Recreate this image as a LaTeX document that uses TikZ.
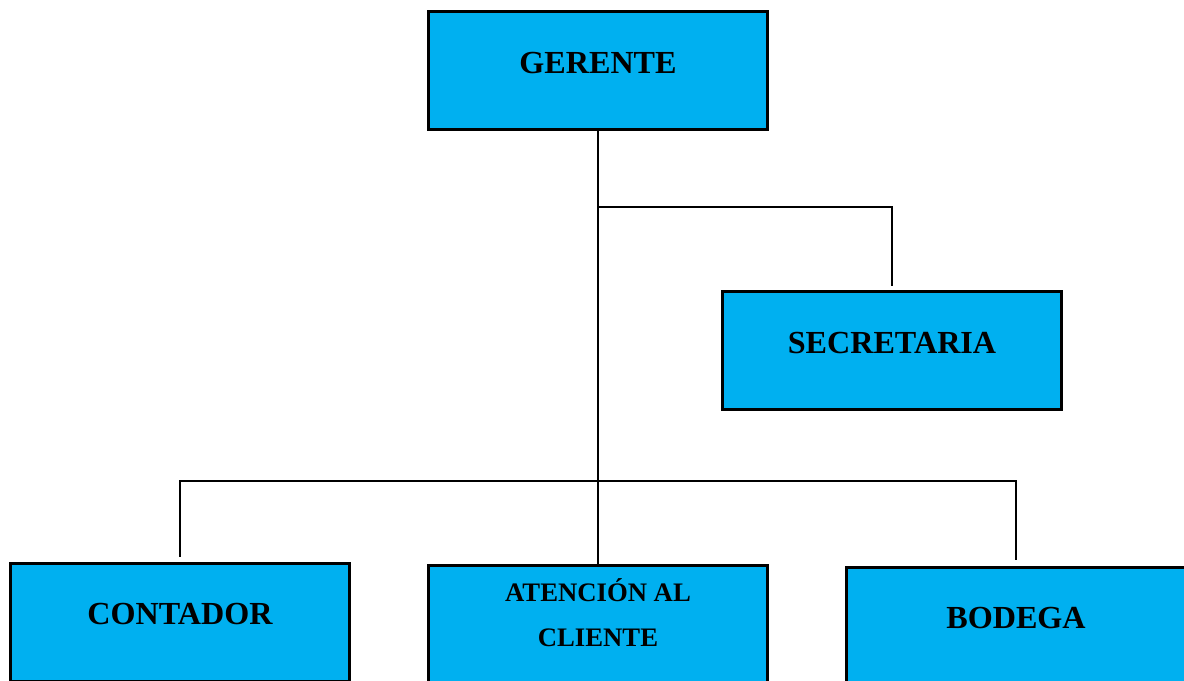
\documentclass[tikz,border=0pt]{standalone}
\usepackage{fontspec}
\setmainfont{Liberation Serif}
\usetikzlibrary{positioning}
\usepackage{xcolor}
\definecolor{celeste}{RGB}{0, 176, 240}

\tikzset{
  puesto/.style={draw, line width=1.7pt, fill=celeste, minimum width=6.8cm,
    minimum height=2.36cm, inner sep=0pt, align=center},
  grande/.style={font=\bfseries\fontsize{18.3}{22}\selectfont, text height=12.1pt, text depth=9pt},
  chico/.style={font=\bfseries\fontsize{15.2}{26}\selectfont, text height=36.1pt, text depth=10.2pt},
  linea/.style={line width=1.4pt}
}

\begin{document}
\begin{tikzpicture}[x=0.02cm,y=-0.02cm]
\path[use as bounding box, clip] (0,0) rectangle (1184,680);
\node[puesto,grande] (ger) at (598,70.5) {GERENTE};
\node[puesto,grande] (sec) at (892,350.5) {SECRETARIA};
\node[puesto,grande] (cont) at (180,622) {CONTADOR};
\node[puesto,chico] (aten) at (598,624) {ATENCIÓN AL\\CLIENTE};
\node[puesto,grande] (bod) at (1016,626) {BODEGA};
% ramas
\coordinate (rama1) at (598,207);
\coordinate (rama2) at (598,481);
\draw[linea] (ger) -- (aten);
\draw[linea] (rama1) -| ([yshift=0.08cm]sec.north);
\draw[linea] ([yshift=0.1cm]cont.north) |- (rama2) -| ([yshift=0.12cm]bod.north);
\end{tikzpicture}
\end{document}
